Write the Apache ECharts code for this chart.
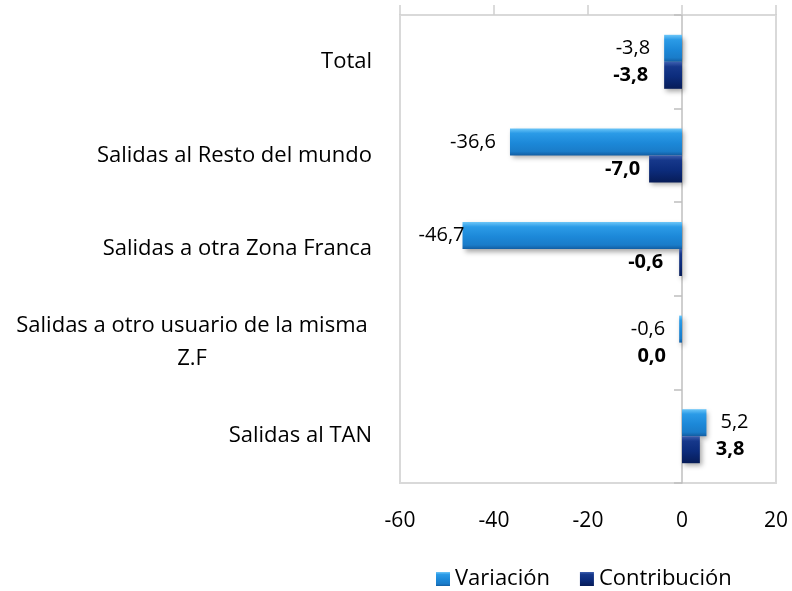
<!DOCTYPE html>
<html>
<head>
<meta charset="utf-8">
<script src="https://cdn.jsdelivr.net/npm/echarts@6/dist/echarts.min.js"></script>
<style>
  html, body { margin: 0; background: #fff; }
  #chart { width: 792px; height: 591px; }
</style>
</head>
<body>
<div id="chart"></div>
<script>
// datos
const categorias = [
  'Total',
  'Salidas al Resto del mundo',
  'Salidas a otra Zona Franca',
  'Salidas a otro usuario de la misma\nZ.F',
  'Salidas al TAN'
]
const variacion = [-3.8, -36.6, -46.7, -0.6, 5.2]
const contribucion = [-3.8, -7.0, -0.6, 0.0, 3.8]
const ticksX = [-60, -40, -20, 0, 20]

const fuente = 'Open Sans'

// formato con coma decimal
function coma(v) {
  return v.toFixed(1).replace('.', ',')
}

// etiqueta a la izquierda si es negativo o cero
function armarDatos(valores, extra) {
  return valores.map(function (v, i) {
    let lab = { position: v > 0 ? 'right' : 'left' }
    if (extra && extra[i] !== undefined) lab.distance = extra[i]
    return { value: v, label: lab }
  })
}

const colorVar = new echarts.graphic.LinearGradient(0, 0, 0, 1, [
  { offset: 0, color: '#6cc6f8' },
  { offset: 0.18, color: '#2b9be7' },
  { offset: 0.55, color: '#1c88d8' },
  { offset: 0.85, color: '#1a7cc9' },
  { offset: 1, color: '#125ea3' }
])
const colorCon = new echarts.graphic.LinearGradient(0, 0, 0, 1, [
  { offset: 0, color: '#3d5fb0' },
  { offset: 0.18, color: '#16388b' },
  { offset: 0.55, color: '#0c2c7c' },
  { offset: 1, color: '#071c58' }
])

let myChart = echarts.init(document.getElementById('chart'))
let option = {
  animation: false,
  grid: {
    left: 400, right: 16, top: 15, bottom: 108,
    show: true, borderColor: '#d9d9d9', borderWidth: 2
  },
  legend: {
    top: 563, left: 431,
    icon: 'rect', itemWidth: 14, itemHeight: 14, itemGap: 30, itemStyle: { borderWidth: 0 },
    textStyle: { fontFamily: fuente, fontSize: 22, color: '#000' },
    data: ['Variación', 'Contribución']
  },
  xAxis: [
    {
      type: 'value', position: 'bottom',
      min: ticksX[0], max: ticksX[ticksX.length - 1], interval: 20,
      axisLine: { show: false }, axisTick: { show: false }, splitLine: { show: false },
      axisLabel: { fontFamily: fuente, fontSize: 21, color: '#000', margin: 28 }
    },
    {
      // solo las marcas de arriba
      type: 'value', position: 'top',
      min: ticksX[0], max: ticksX[ticksX.length - 1], interval: 20,
      axisLine: { show: false }, splitLine: { show: false }, axisLabel: { show: false },
      axisTick: { show: true, inside: false, length: 10, lineStyle: { color: '#d0d0d0', width: 1.5 } }
    }
  ],
  yAxis: [
    {
      type: 'category', data: categorias, inverse: true,
      axisLine: { show: false, onZero: false }, axisTick: { show: false },
      axisLabel: {
        margin: 28, fontFamily: fuente, fontSize: 22, color: '#000', lineHeight: 33,
        formatter: function (v) {
          if (v.indexOf('\n') > -1) {
            return v.split('\n').map(function (l) { return '{c|' + l + '}' }).join('\n')
          }
          return v
        },
        rich: {
          c: { width: 360, align: 'center', fontFamily: fuente, fontSize: 22, color: '#000', lineHeight: 33 }
        }
      }
    },
    {
      // linea del cero
      type: 'category', data: categorias, inverse: true, position: 'left',
      axisLine: { show: true, onZero: true, lineStyle: { color: '#bfbfbf', width: 1.5 } },
      axisTick: { show: true, length: 8, lineStyle: { color: '#bfbfbf', width: 1.5 } },
      axisLabel: { show: false }
    }
  ],
  series: [
    {
      name: 'Variación', type: 'bar', xAxisIndex: 0, yAxisIndex: 0,
      barWidth: 27, barGap: '0%',
      data: armarDatos(variacion, { 2: -2 }),
      itemStyle: {
        color: colorVar,
        shadowColor: 'rgba(0,0,0,0.35)', shadowBlur: 5, shadowOffsetX: 2, shadowOffsetY: 3
      },
      label: {
        show: true, distance: 14, fontFamily: fuente, fontSize: 20, color: '#000',
        formatter: function (p) { return coma(p.value) }
      }
    },
    {
      name: 'Contribución', type: 'bar', xAxisIndex: 0, yAxisIndex: 0,
      barWidth: 27,
      data: armarDatos(contribucion, { 1: 9 }),
      itemStyle: {
        color: colorCon,
        shadowColor: 'rgba(0,0,0,0.35)', shadowBlur: 5, shadowOffsetX: 2, shadowOffsetY: 3
      },
      label: {
        show: true, distance: 16, fontFamily: fuente, fontSize: 20, fontWeight: 'bold', color: '#000',
        formatter: function (p) { return coma(p.value) }
      }
    }
  ]
}
myChart.setOption(option)
</script>
</body>
</html>
